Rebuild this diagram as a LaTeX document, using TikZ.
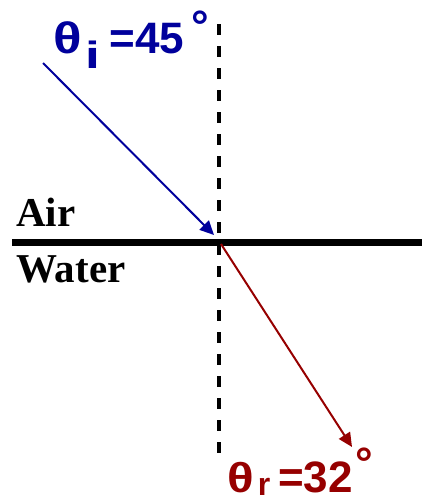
\documentclass[tikz,border=0pt]{standalone}
\usepackage{xcolor}
\usepackage{fontspec}
\usepackage{tikz}
\usetikzlibrary{arrows.meta, positioning}
\setmainfont{Liberation Serif}
\newfontfamily\labelfont{Liberation Sans}
\definecolor{incblue}{RGB}{0,0,156}
\definecolor{refred}{RGB}{150,0,0}
\tikzstyle{medium} = [anchor=base west, inner sep=0pt, font=\fontsize{41}{41}\selectfont\bfseries]
\tikzstyle{angle} = [anchor=base west, inner sep=0pt, font=\fontsize{44}{44}\labelfont\bfseries]
\tikzstyle{ray} = [line width=2pt, -{Triangle[length=14pt,width=13pt]}]
\newcommand{\wideth}{\scalebox{1.2}[1]{θ}}

\begin{document}
\begin{tikzpicture}[x=1pt, y=-1pt]
    \useasboundingbox (0,0) rectangle (422,501);
    \coordinate (src) at (43,63);
    \coordinate (hit) at (219,242);
    \coordinate (dst) at (352,447);
    \coordinate (top) at (219,24);
    \coordinate (bot) at (219,460);
    \coordinate (left) at (12,242);
    \coordinate (right) at (422,242);

    \node (air) [medium] at (16,226) {Air};
    \node (water) [medium] at (16,282) {Water};
    \node (thi) [angle, text=incblue] at (53,53) {\wideth\hspace{4pt}\raisebox{-15pt}{\fontsize{38}{38}\selectfont\scalebox{1.4}[1]{i}}\hspace{9pt}=45\hspace{7pt}\raisebox{12pt}{°}};
    \node (thr) [angle, text=refred] at (227,492) {\scalebox{1.12}[0.95]{θ}\hspace{4pt}\raisebox{-3pt}{\fontsize{32}{32}\selectfont r}\hspace{8pt}=32\hspace{3pt}\raisebox{14pt}{°}};

    \draw [line width=4pt, dash pattern=on 11pt off 11pt] (top) -- (bot);
    \draw [line width=7pt] (left) -- (right);
    \draw [ray, incblue] (src) -- ([shift={(-5,-7)}]hit);
    \draw [ray, refred] ([shift={(2,2)}]hit) -- (dst);
  \end{tikzpicture}
\end{document}
